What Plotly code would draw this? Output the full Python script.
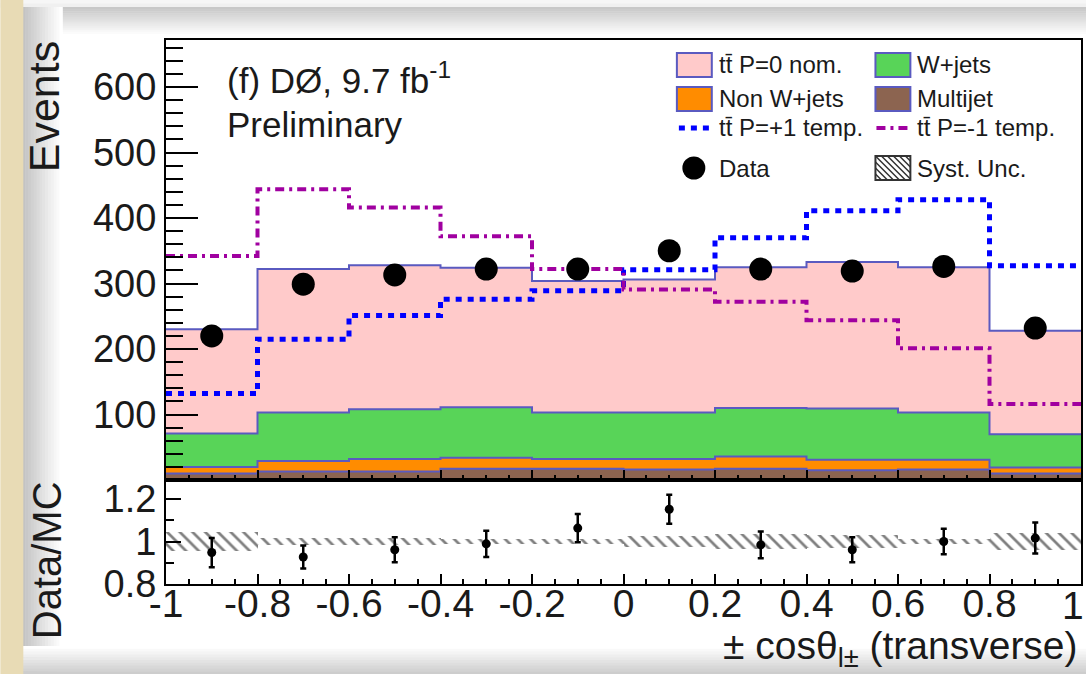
import numpy as np
import plotly.graph_objects as go

# ---------------- data ----------------
bin_edges = [-1.0, -0.8, -0.6, -0.4, -0.2, 0.0, 0.2, 0.4, 0.6, 0.8, 1.0]
bin_centers = [-0.9, -0.7, -0.5, -0.3, -0.1, 0.1, 0.3, 0.5, 0.7, 0.9]
multijet = [10, 13, 13, 17, 17, 16, 17, 15, 16, 10]
non_wjets = [10, 16, 19, 17, 15, 16, 19, 16, 15, 9]
wjets = [51, 74, 76, 77, 71, 71, 74, 78, 72, 51]
ttbar_p0 = [159, 219, 220, 213, 201, 203, 215, 224, 222, 158]
ttbar_pplus = [132, 215, 251, 276, 289, 321, 370, 411, 428, 327]
ttbar_pminus = [342, 444, 416, 372, 322, 291, 272, 244, 201, 116]
data = [220, 299, 313, 322, 322, 350, 322, 319, 326, 232]
ratio = [0.948, 0.927, 0.961, 0.989, 1.063, 1.152, 0.984, 0.961, 1.000, 1.016]
ratio_err = [0.069, 0.054, 0.059, 0.062, 0.067, 0.068, 0.063, 0.059, 0.060, 0.073]
syst_unc = [0.045, 0.015, 0.015, 0.012, 0.012, 0.025, 0.035, 0.030, 0.010, 0.040]

main_yticks = [100, 200, 300, 400, 500, 600]
ratio_yticks = [0.8, 1.0, 1.2]
ratio_yticktext = ["0.8", "1", "1.2"]
x_ticks = [-1, -0.8, -0.6, -0.4, -0.2, 0, 0.2, 0.4, 0.6, 0.8, 1]
x_ticktext = ["-1", "-0.8", "-0.6", "-0.4", "-0.2", "0", "0.2", "0.4", "0.6", "0.8", "1"]

legend_labels = ["tt\u0304 P=0 nom.", "W+jets", "Non W+jets", "Multijet",
                 "tt\u0304 P=+1 temp.", "tt\u0304 P=-1 temp.", "Data", "Syst. Unc."]

# ---------------- styles ----------------
C_PINK = "#ffcaca"
C_GREEN = "#58d458"
C_ORANGE = "#ff8c00"
C_BROWN = "#8c6450"
C_OUT = "#5a5ac0"
C_BLUE = "#0000ff"
C_MAG = "#a000a0"
FONT = "Liberation Sans"
TXT = "#1a1a1a"

W_FIG, H_FIG = 1088, 674
L, R, T, B = 166, 1083, 40, 584
MID = 480
PW, PH = R - L, B - T


def px(x):
    return (x - L) / PW


def py(y):
    return (B - y) / PH


fig = go.Figure()

# stacked backgrounds (bottom to top)
for vals, col in [(multijet, C_BROWN), (non_wjets, C_ORANGE), (wjets, C_GREEN), (ttbar_p0, C_PINK)]:
    fig.add_trace(go.Bar(x=bin_centers, y=vals, width=0.2, marker=dict(color=col, line=dict(width=0)),
                         xaxis="x", yaxis="y", showlegend=False, hoverinfo="skip"))

# outline steps of the cumulative stack
cum = np.cumsum(np.array([multijet, non_wjets, wjets, ttbar_p0]), axis=0)
for level in cum:
    yy = list(level) + [level[-1]]
    fig.add_trace(go.Scatter(x=bin_edges, y=yy, mode="lines", line=dict(color=C_OUT, width=2, shape="hv"),
                             xaxis="x", yaxis="y", showlegend=False, hoverinfo="skip"))

# templates
fig.add_trace(go.Scatter(x=bin_edges, y=ttbar_pplus + [ttbar_pplus[-1]], mode="lines",
                         line=dict(color=C_BLUE, width=5, dash="6px,6px", shape="hv"),
                         xaxis="x", yaxis="y", showlegend=False))
fig.add_trace(go.Scatter(x=bin_edges, y=ttbar_pminus + [ttbar_pminus[-1]], mode="lines",
                         line=dict(color=C_MAG, width=4, dash="9px,5px,3px,5px", shape="hv"),
                         xaxis="x", yaxis="y", showlegend=False))

# data
fig.add_trace(go.Scatter(x=bin_centers, y=data, mode="markers", marker=dict(color="black", size=23),
                         xaxis="x", yaxis="y", showlegend=False))

# ratio panel: syst band
fig.add_trace(go.Bar(x=bin_centers, y=[2 * s for s in syst_unc], base=[1 - s for s in syst_unc], width=0.2,
                     marker=dict(color="rgba(0,0,0,0)", line=dict(width=0),
                                 pattern=dict(shape="\\", fgcolor="#000000", bgcolor="rgba(0,0,0,0)",
                                              size=9, solidity=0.3)),
                     xaxis="x2", yaxis="y2", showlegend=False, hoverinfo="skip"))
fig.add_trace(go.Scatter(x=bin_centers, y=ratio, mode="markers",
                         marker=dict(color="black", size=9),
                         error_y=dict(type="data", array=ratio_err, color="black", thickness=2.5, width=3),
                         xaxis="x2", yaxis="y2", showlegend=False))

axis_common = dict(showline=True, linecolor="black", linewidth=2, mirror=True, showgrid=False,
                   zeroline=False, ticks="inside", tickcolor="black", tickwidth=1.5)

# last x label ("1") sits on the page edge; it is placed as an annotation so it does not widen the page
x_axis_text = x_ticktext[:-1] + [""]

fig.update_layout(
    width=W_FIG, height=H_FIG, autosize=False,
    margin=dict(l=L, r=W_FIG - R, t=T, b=H_FIG - B, pad=0),
    paper_bgcolor="white", plot_bgcolor="white",
    barmode="stack", bargap=0,
    font=dict(family=FONT, color=TXT),
    xaxis=dict(axis_common, domain=[0, 1], range=[-1, 1], anchor="y", showticklabels=False,
               tickvals=x_ticks, ticklen=10,
               minor=dict(ticks="inside", dtick=0.05, tick0=0, ticklen=5, tickcolor="black")),
    yaxis=dict(axis_common, domain=[py(MID), 1], range=[0, (MID - T) / 0.655], anchor="x",
               tickvals=main_yticks, ticklen=32, tickfont=dict(size=38, color=TXT),
               minor=dict(ticks="inside", dtick=20, tick0=0, ticklen=17, tickcolor="black")),
    xaxis2=dict(axis_common, domain=[0, 1], range=[-1, 1], anchor="y2", matches="x",
                tickvals=x_ticks, ticktext=x_axis_text, ticklen=10, tickfont=dict(size=39, color=TXT),
                ticklabelstandoff=-16,
                minor=dict(ticks="inside", dtick=0.05, tick0=0, ticklen=5, tickcolor="black")),
    yaxis2=dict(axis_common, domain=[0, py(MID)], range=[0.8, 0.8 + (B - MID) / 212.5], anchor="x2",
                tickvals=ratio_yticks, ticktext=ratio_yticktext, ticklen=15, tickfont=dict(size=38, color=TXT),
                minor=dict(ticks="inside", dtick=0.1, tick0=0, ticklen=8, tickcolor="black")),
)

shapes = []


# ---- photo background decorations ----
def grad(x0, x1, y0, y1, c0, c1, n, horizontal):
    for i in range(n):
        f = i / (n - 1)
        col = tuple(int(round(a + (b - a) * f)) for a, b in zip(c0, c1))
        if horizontal:
            xa = x0 + (x1 - x0) * i / n
            xb = x0 + (x1 - x0) * (i + 1) / n
            ya, yb = y0, y1
        else:
            ya = y0 + (y1 - y0) * i / n
            yb = y0 + (y1 - y0) * (i + 1) / n
            xa, xb = x0, x1
        shapes.append(dict(type="rect", xref="paper", yref="paper", x0=px(xa), x1=px(min(xb + 0.6, W_FIG)),
                           y0=py(min(yb + 0.6, H_FIG)), y1=py(ya), line=dict(width=0),
                           fillcolor="rgb(%d,%d,%d)" % col, layer="below"))


grad(0, W_FIG, 0, 7, (246, 246, 246), (240, 240, 240), 2, False)
grad(22, W_FIG, 7, 36, (200, 200, 200), (255, 255, 255), 14, False)
grad(22, 62, 7, H_FIG, (195, 195, 195), (255, 255, 255), 14, True)
grad(22, W_FIG, 646, H_FIG, (255, 255, 255), (205, 205, 205), 10, False)
shapes.append(dict(type="rect", xref="paper", yref="paper", x0=px(0), x1=px(23), y0=py(H_FIG), y1=py(0),
                   line=dict(width=0), fillcolor="#e8dbb5", layer="below"))

# ---- manual legend ----
col_x = [678, 877]
row_y = [65, 99, 128, 168]
box_w, box_h = 35, 24
fills = [C_PINK, C_GREEN, C_ORANGE, C_BROWN]
for i, col in enumerate(fills):
    cx = col_x[i % 2]
    cy = row_y[i // 2]
    shapes.append(dict(type="rect", xref="paper", yref="paper", x0=px(cx), x1=px(cx + box_w),
                       y0=py(cy + box_h / 2), y1=py(cy - box_h / 2), fillcolor=col,
                       line=dict(color=C_OUT, width=2)))
shapes.append(dict(type="line", xref="paper", yref="paper", x0=px(col_x[0] + 2), x1=px(col_x[0] + 34),
                   y0=py(row_y[2]), y1=py(row_y[2]), line=dict(color=C_BLUE, width=5, dash="6px,6px")))
shapes.append(dict(type="line", xref="paper", yref="paper", x0=px(col_x[1] + 1), x1=px(col_x[1] + 35),
                   y0=py(row_y[2]), y1=py(row_y[2]), line=dict(color=C_MAG, width=4, dash="9px,5px,3px,5px")))
shapes.append(dict(type="circle", xref="paper", yref="paper", x0=px(695 - 11.5), x1=px(695 + 11.5),
                   y0=py(row_y[3] + 11.5), y1=py(row_y[3] - 11.5), fillcolor="black", line=dict(width=0)))
hx0, hx1 = col_x[1], col_x[1] + box_w
hy0, hy1 = row_y[3] - 12, row_y[3] + 12
shapes.append(dict(type="rect", xref="paper", yref="paper", x0=px(hx0), x1=px(hx1), y0=py(hy1), y1=py(hy0),
                   fillcolor="white", line=dict(color="#333333", width=2)))
path = ""
for k in np.arange(hx0 - (hy1 - hy0), hx1, 6):
    ya = max(hy0, hy0 + (hx0 - k))
    yb = min(hy1, hy0 + (hx1 - k))
    if yb <= ya:
        continue
    xa = k + (ya - hy0)
    xb = k + (yb - hy0)
    path += "M%.5f,%.5f L%.5f,%.5f " % (px(xa), py(ya), px(xb), py(yb))
shapes.append(dict(type="path", xref="paper", yref="paper", path=path, line=dict(color="#333333", width=1.5)))

annotations = []
for i, lab in enumerate(legend_labels):
    cx = col_x[i % 2] + box_w + 5
    cy = row_y[i // 2]
    annotations.append(dict(x=px(cx), y=py(cy), xref="paper", yref="paper", text=lab, showarrow=False,
                            xanchor="left", yanchor="middle", font=dict(size=24, family=FONT, color=TXT)))

annotations += [
    dict(x=px(1087), y=py(605), xref="paper", yref="paper", text=x_ticktext[-1], showarrow=False,
         xanchor="right", yanchor="middle", height=30, borderpad=0,
         font=dict(size=39, family=FONT, color=TXT)),
    dict(x=px(225), y=py(78), xref="paper", yref="paper", text="(f) DØ, 9.7 fb<sup>-1</sup>", showarrow=False,
         xanchor="left", yanchor="middle", font=dict(size=35, family=FONT, color=TXT)),
    dict(x=px(225), y=py(124), xref="paper", yref="paper", text="Preliminary", showarrow=False,
         xanchor="left", yanchor="middle", font=dict(size=35, family=FONT, color=TXT)),
    dict(x=px(44), y=py(107), xref="paper", yref="paper", text="Events", showarrow=False, textangle=-90,
         xanchor="center", yanchor="middle", font=dict(size=43, family=FONT, color=TXT)),
    dict(x=px(47), y=py(560), xref="paper", yref="paper", text="Data/MC", showarrow=False, textangle=-90,
         xanchor="center", yanchor="middle", font=dict(size=40, family=FONT, color=TXT)),
    dict(x=px(1082), y=py(648), xref="paper", yref="paper",
         text="± cosθ<sub>l±</sub> (transverse)", showarrow=False,
         xanchor="right", yanchor="middle", font=dict(size=39, family=FONT, color=TXT)),
]

fig.update_layout(shapes=shapes, annotations=annotations)
fig.write_html("out.html", config={"displayModeBar": False, "responsive": False},
               post_script="document.body.style.margin='0px';document.body.style.overflow='hidden';")
